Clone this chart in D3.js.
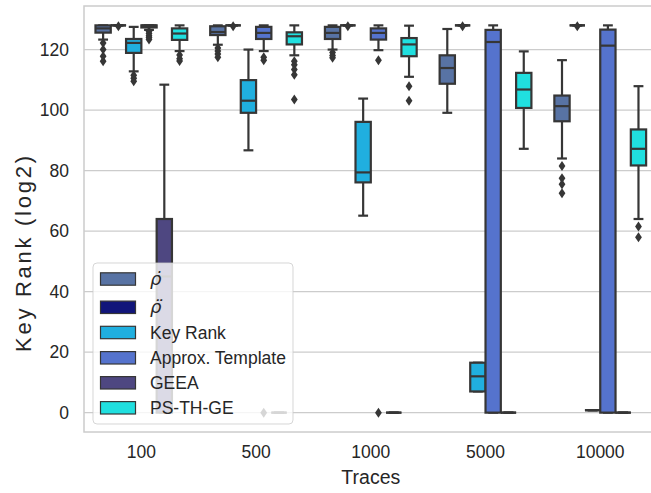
<!DOCTYPE html>
<html><head><meta charset="utf-8">
<script src="https://cdnjs.cloudflare.com/ajax/libs/d3/7.8.5/d3.min.js"></script>
<style>
html,body{margin:0;padding:0;background:#fff;overflow:hidden}
text{font-family:"Liberation Sans",Arial,sans-serif;fill:#262626}
</style></head>
<body>
<svg id="chart" width="651" height="493"></svg>
<script>
// ---- data ----
const categories = ["100", "500", "1000", "5000", "10000"];
const seriesNames = ["ρ̇", "ρ̈", "Key Rank", "Approx. Template", "GEEA", "PS-TH-GE"];
const seriesColors = ["#5873a4", "#11157a", "#20afdf", "#5573cd", "#4e4781", "#20dfdf"];
const yTicks = [0, 20, 40, 60, 80, 100, 120];

// box stats per category: [whiskerLow, q1, median, q3, whiskerHigh]
const rhoDotStats = [[123.3, 125.6, 127, 128, 128], [121.6, 124.8, 125.8, 127.7, 128], [120, 123.5, 125.5, 127.5, 128], [99.1, 108.7, 113.9, 118.1, 126.8], [84, 96.3, 101.3, 104.8, 116.5]];
const rhoDotFliers = [[122.2, 120, 117.8, 116.1], [120.5, 119.5, 118.5, 117.5], [119, 118, 117.3], [], [81.5, 77.5, 75.5, 72.5]];

const rhoDDotStats = [[128, 128, 128, 128, 128], [128, 128, 128, 128, 128], [128, 128, 128, 128, 128], [128, 128, 128, 128, 128], [128, 128, 128, 128, 128]];
const rhoDDotFliers = [[127.7], [127.7], [127.7], [127.7], [127.7]];

const keyRankStats = [[112.8, 118.9, 122.2, 123.5, 127.5], [86.7, 99.1, 103.1, 109.9, 120], [65.1, 76.1, 79.4, 96.1, 103.8], [7, 7, 12, 16.5, 16.5], [0.8, 0.8, 0.8, 0.8, 0.8]];
const keyRankFliers = [[111.5, 110.5, 109.5], [], [], [], []];

const approxStats = [[126.5, 127.3, 128, 128, 128], [119.5, 123.5, 125.5, 127.5, 128], [119.8, 123.3, 125.5, 127, 128], [0, 0, 122.5, 126.5, 128], [0, 0, 121.3, 126.6, 128]];
const approxFliers = [[126, 125.3, 124.6, 124, 123.3], [117.5, 116.5, 0], [116.5, 0], [], []];

const geeaStats = [[0, 0, 45, 64, 108.4], [0, 0, 0, 0, 0], [0, 0, 0, 0, 0], [0, 0, 0, 0, 0], [0, 0, 0, 0, 0]];
const geeaFliers = [[], [], [], [], []];

const psthgeStats = [[119.5, 123.2, 125.3, 127, 128], [118.1, 121.7, 124.4, 125.7, 128], [111, 117.8, 121.7, 123.8, 127.9], [87.2, 100.7, 106.8, 112.3, 119.4], [64, 81.7, 87.2, 93.6, 107.9]];
const psthgeFliers = [[118.2, 117, 116.2], [116.1, 115, 113.4, 111.7, 103.5], [107.9, 103.1], [], [61.5, 58]];

const allStats = [rhoDotStats, rhoDDotStats, keyRankStats, approxStats, geeaStats, psthgeStats];
const allFliers = [rhoDotFliers, rhoDDotFliers, keyRankFliers, approxFliers, geeaFliers, psthgeFliers];

// ---- layout ----
const svg = d3.select("#chart");
const M = {left: 84, top: 6, right: 657.6, bottom: 432};
const edge = "#363636";

const x = d3.scaleBand().domain(categories).range([M.left, M.right]).padding(0);
const bw = x.bandwidth();
const xh = d3.scaleBand().domain(seriesNames).range([-0.4 * bw, 0.4 * bw]).padding(0);
const y = d3.scaleLinear().domain([-6.4, 134.4]).range([M.bottom, M.top]);

// grid
svg.append("g").selectAll("line").data(yTicks).join("line")
  .attr("x1", M.left).attr("x2", M.right)
  .attr("y1", d => y(d)).attr("y2", d => y(d))
  .attr("stroke", "#cccccc").attr("stroke-width", 1.25);

// spines
const sp = svg.append("g").attr("stroke", "#cccccc").attr("stroke-width", 1.5).attr("fill", "none");
sp.append("rect").attr("x", M.left).attr("y", M.top).attr("width", M.right - M.left).attr("height", M.bottom - M.top);

// axes
const yAxis = d3.axisLeft(y).tickValues(yTicks).tickSize(0).tickPadding(15);
const gy = svg.append("g").attr("transform", `translate(${M.left},0)`).call(yAxis);
gy.select(".domain").remove();
gy.selectAll("text").style("font-size", "17.5px").attr("fill", "#262626");

const xAxis = d3.axisBottom(x).tickSize(0).tickPadding(14);
const gx = svg.append("g").attr("transform", `translate(0,${M.bottom})`).call(xAxis);
gx.select(".domain").remove();
gx.selectAll("text").style("font-size", "17.5px").attr("fill", "#262626");

svg.append("text").attr("x", (M.left + M.right) / 2).attr("y", 484).attr("text-anchor", "middle")
  .style("font-size", "19.5px").text("Traces");
svg.append("text").attr("transform", `translate(31,254) rotate(-90)`)
  .attr("text-anchor", "middle").style("font-size", "22px")
  .attr("textLength", 196).attr("lengthAdjust", "spacing").text("Key Rank (log2)");

// boxes
const boxW = xh.bandwidth();
const capW = boxW * 0.5;
const plot = svg.append("g");
seriesNames.forEach((name, si) => {
  const g = plot.append("g");
  categories.forEach((cat, ci) => {
    const [lo, q1, med, q3, hi] = allStats[si][ci];
    const cx = x(cat) + bw / 2 + xh(name) + boxW / 2;
    const gg = g.append("g");
    // whiskers
    gg.append("line").attr("x1", cx).attr("x2", cx).attr("y1", y(q3)).attr("y2", y(hi))
      .attr("stroke", edge).attr("stroke-width", 2.2);
    gg.append("line").attr("x1", cx).attr("x2", cx).attr("y1", y(q1)).attr("y2", y(lo))
      .attr("stroke", edge).attr("stroke-width", 2.2);
    [lo, hi].forEach(v => gg.append("line").attr("x1", cx - capW / 2).attr("x2", cx + capW / 2)
      .attr("y1", y(v)).attr("y2", y(v)).attr("stroke", edge).attr("stroke-width", 2.2)
      .attr("stroke-linecap", "square"));
    // box
    gg.append("rect").attr("x", cx - boxW / 2).attr("width", boxW)
      .attr("y", y(q3)).attr("height", Math.max(0, y(q1) - y(q3)))
      .attr("fill", seriesColors[si]).attr("stroke", edge).attr("stroke-width", 2.2);
    if (q1 === q3) {
      gg.append("line").attr("x1", cx - boxW / 2).attr("x2", cx + boxW / 2)
        .attr("y1", y(q1)).attr("y2", y(q1)).attr("stroke", edge).attr("stroke-width", 2.2);
    }
    gg.append("line").attr("x1", cx - boxW / 2).attr("x2", cx + boxW / 2)
      .attr("y1", y(med)).attr("y2", y(med)).attr("stroke", edge).attr("stroke-width", 2.2);
    // fliers
    gg.selectAll("path.f").data(allFliers[si][ci]).join("path").attr("class", "f")
      .attr("d", "M0,-5L3.4,0L0,5L-3.4,0Z")
      .attr("transform", v => `translate(${cx},${y(v)})`)
      .attr("fill", edge);
  });
});

// legend
const lg = svg.append("g");
lg.append("rect").attr("x", 93).attr("y", 263).attr("width", 200).attr("height", 161).attr("rx", 4)
  .attr("fill", "#ffffff").attr("fill-opacity", 0.8).attr("stroke", "#cccccc").attr("stroke-opacity", 0.8);
const rowY = [279, 307.3, 332.5, 357.8, 382.8, 407.8];
seriesNames.forEach((name, i) => {
  lg.append("rect").attr("x", 100.5).attr("y", rowY[i] - 6.2).attr("width", 35).attr("height", 12.4)
    .attr("fill", seriesColors[i]).attr("stroke", edge).attr("stroke-width", 1.2);
  const t = lg.append("text").attr("x", 150).attr("y", rowY[i] + 6).style("font-size", "17.5px").text(name);
  if (i < 2) t.style("font-family", "'DejaVu Sans'").style("font-style", "italic").style("font-size", "18px");
});
</script>
</body></html>
